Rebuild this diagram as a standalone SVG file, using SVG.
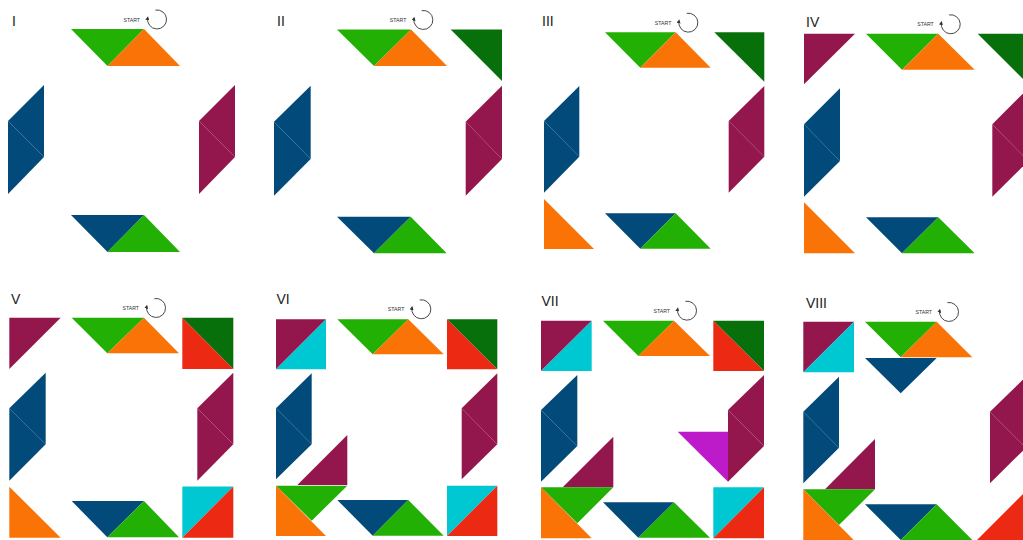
<svg xmlns="http://www.w3.org/2000/svg" width="1023" height="540" viewBox="0 0 1023 540">
<style>
.g{fill:#21b003}.o{fill:#f97306}.b{fill:#024a7a}.m{fill:#93174c}.dg{fill:#08700a}.r{fill:#ec2913}.c{fill:#00c8d2}.p{fill:#bd1bc9}
polygon{stroke:none}
.lbl{font-family:"Liberation Sans",Arial,sans-serif;font-size:14px;fill:#222}
.st{font-family:"Liberation Sans",Arial,sans-serif;font-size:5.2px;fill:#333}
.arc{fill:none;stroke:#333;stroke-width:0.9}
</style>
<defs>
<marker id="ah" viewBox="0 0 10 10" refX="6" refY="5" markerWidth="4" markerHeight="4" orient="auto" markerUnits="userSpaceOnUse"><path d="M0,0L10,5L0,10z" fill="#333"/></marker>
<g id="start">
<text class="st" x="-33.5" y="2">START</text>
<path class="arc" d="M-1.6,-9.4 A9.5,9.5 0 1 1 -9.3,-1.8" marker-end="url(#ah)"/>
</g>
</defs>

<g id="panel-1">
<text class="lbl" x="12" y="26">I</text>
<use href="#start" x="157" y="19.5"/>
<polygon class="g" points="71,29 144,29 107.5,66"/>
<polygon class="o" points="144,29 107.5,66 180,66"/>
<polygon class="b" points="44,85 44,157 8,121"/>
<polygon class="b" points="8,121 44,157 8,194"/>
<polygon class="m" points="235,85 235,157 199,121"/>
<polygon class="m" points="199,121 235,157 199,194"/>
<polygon class="b" points="71,215 144,215 107.5,252"/>
<polygon class="g" points="144,215 107.5,252 180,252"/>
</g>

<g id="panel-2">
<text class="lbl" x="277" y="26">II</text>
<use href="#start" x="423.3" y="20"/>
<polygon class="g" points="337,29.5 411,29.5 374,66"/>
<polygon class="o" points="411,29.5 374,66 447,66"/>
<polygon class="dg" points="450.7,29.5 502,29.5 502,81"/>
<polygon class="b" points="310.7,85.7 310.7,159 274,121.7"/>
<polygon class="b" points="274,121.7 310.7,159 274,195.7"/>
<polygon class="m" points="502,85.7 502,159 465.7,121.7"/>
<polygon class="m" points="465.7,121.7 502,159 465.7,195.7"/>
<polygon class="b" points="337,216.7 410.7,216.7 374,253.3"/>
<polygon class="g" points="410.7,216.7 374,253.3 446.7,253.3"/>
</g>

<g id="panel-3">
<text class="lbl" x="542" y="26">III</text>
<use href="#start" x="688.3" y="22.7"/>
<polygon class="g" points="605,32.3 675.7,32.3 640.3,67.7"/>
<polygon class="o" points="675.7,32.3 640.3,67.7 710.7,67.7"/>
<polygon class="dg" points="714.3,32.3 764.3,32.3 764.3,81.7"/>
<polygon class="b" points="579.3,86 579.3,156.7 544,121"/>
<polygon class="b" points="544,121 579.3,156.7 544,192.7"/>
<polygon class="m" points="764.3,86 764.3,156.7 728.7,121"/>
<polygon class="m" points="728.7,121 764.3,156.7 728.7,192.7"/>
<polygon class="o" points="544,199 544,249 594,249"/>
<polygon class="b" points="605,213.3 675.7,213.3 640.3,248.7"/>
<polygon class="g" points="675.7,213.3 640.3,248.7 710.7,248.7"/>
</g>

<g id="panel-4">
<text class="lbl" x="806" y="26.7">IV</text>
<use href="#start" x="950.7" y="24.3"/>
<polygon class="m" points="804,33.7 855,33.7 804,84.3"/>
<polygon class="g" points="866,33.7 938.3,33.7 902,69.7"/>
<polygon class="o" points="938.3,33.7 902,69.7 974.7,69.7"/>
<polygon class="dg" points="977.7,33.7 1029,33.7 1029,85"/>
<polygon class="b" points="840,88.3 840,161 804,124.3"/>
<polygon class="b" points="804,124.3 840,161 804,196.7"/>
<polygon class="m" points="1028.3,88.3 1028.3,161 992.3,124.3"/>
<polygon class="m" points="992.3,124.3 1028.3,161 992.3,196.7"/>
<polygon class="o" points="804,202.3 804,253.3 855,253.3"/>
<polygon class="b" points="866,217.3 938.3,217.3 902,253.3"/>
<polygon class="g" points="938.3,217.3 902,253.3 974.7,253.3"/>
</g>

<g id="panel-5">
<text class="lbl" x="11" y="304">V</text>
<use href="#start" x="156" y="308"/>
<polygon class="m" points="9.3,317.7 60.7,317.7 9.3,369"/>
<polygon class="g" points="71.7,317.7 144,317.7 107.3,353.3"/>
<polygon class="o" points="144,317.7 107.3,353.3 179,353.3"/>
<polygon class="dg" points="182.3,317.7 233.3,317.7 233.3,369"/>
<polygon class="r" points="182.3,317.7 182.3,369 233.3,369"/>
<polygon class="b" points="45.7,372.7 45.7,444.3 9.3,408.3"/>
<polygon class="b" points="9.3,408.3 45.7,444.3 9.3,480.7"/>
<polygon class="m" points="233.3,372.7 233.3,444.3 197.3,408.3"/>
<polygon class="m" points="197.3,408.3 233.3,444.3 197.3,480.7"/>
<polygon class="o" points="9.3,486.7 9.3,537.7 60.7,537.7"/>
<polygon class="b" points="71.7,501 144,501 107.3,537.3"/>
<polygon class="g" points="144,501 107.3,537.3 179,537.3"/>
<polygon class="c" points="182.3,486.5 233.3,486.5 182.3,537.7"/>
<polygon class="r" points="233.3,486.5 233.3,537.7 182.3,537.7"/>
</g>

<g id="panel-6">
<text class="lbl" x="276.5" y="304">VI</text>
<use href="#start" x="421.3" y="309.3"/>
<polygon class="m" points="276,319.3 326,319.3 276,369.3"/>
<polygon class="c" points="326,319.3 326,369.3 276,369.3"/>
<polygon class="g" points="337.3,319.3 408.3,319.3 372.7,354.3"/>
<polygon class="o" points="408.3,319.3 372.7,354.3 443.7,354.3"/>
<polygon class="dg" points="447,319.3 497.3,319.3 497.3,369.3"/>
<polygon class="r" points="447,319.3 447,369.3 497.3,369.3"/>
<polygon class="b" points="311.7,373.3 311.7,444.3 276,408.3"/>
<polygon class="b" points="276,408.3 311.7,444.3 276,479.3"/>
<polygon class="m" points="497.3,373.3 497.3,444.3 461.7,408.3"/>
<polygon class="m" points="461.7,408.3 497.3,444.3 461.7,479.3"/>
<polygon class="m" points="347.3,435 347.3,485 297.3,485"/>
<polygon class="g" points="276,485.7 347.3,485.7 311.7,520.7"/>
<polygon class="o" points="276,485.7 276,536 326,536"/>
<polygon class="b" points="337.3,500 408.3,500 372.7,535.7"/>
<polygon class="g" points="408.3,500 372.7,535.7 443.7,535.7"/>
<polygon class="c" points="447,485.7 497.3,485.7 447,536"/>
<polygon class="r" points="497.3,485.7 497.3,536 447,536"/>
</g>

<g id="panel-7">
<text class="lbl" x="541.5" y="305.7">VII</text>
<use href="#start" x="687" y="310.7"/>
<polygon class="m" points="541,320.7 591.7,320.7 541,371"/>
<polygon class="c" points="591.7,320.7 591.7,371 541,371"/>
<polygon class="g" points="603,320.7 674,320.7 638.3,356"/>
<polygon class="o" points="674,320.7 638.3,356 710,356"/>
<polygon class="dg" points="713.3,320.7 764,320.7 764,371"/>
<polygon class="r" points="713.3,320.7 713.3,371 764,371"/>
<polygon class="b" points="577.3,375 577.3,446 541,410"/>
<polygon class="b" points="541,410 577.3,446 541,481.7"/>
<polygon class="m" points="764,375 764,446 728,410"/>
<polygon class="m" points="728,410 764,446 728,481.7"/>
<polygon class="p" points="677.7,431.7 728,431.7 728,481.7"/>
<polygon class="m" points="613.3,436.7 613.3,487.3 562.7,487.3"/>
<polygon class="g" points="541,487.3 613.3,487.3 577.3,523.3"/>
<polygon class="o" points="541,487.3 541,538.3 591.7,538.3"/>
<polygon class="b" points="603,502.3 674,502.3 638.3,537.7"/>
<polygon class="g" points="674,502.3 638.3,537.7 710,537.7"/>
<polygon class="c" points="713.3,487.3 764,487.3 713.3,538.3"/>
<polygon class="r" points="764,487.3 764,538.3 713.3,538.3"/>
</g>

<g id="panel-8">
<text class="lbl" x="806" y="307.7">VIII</text>
<use href="#start" x="949" y="312"/>
<polygon class="m" points="803.3,321.7 854,321.7 803.3,372.3"/>
<polygon class="c" points="854,321.7 854,372.3 803.3,372.3"/>
<polygon class="g" points="865,321.7 936.7,321.7 900.7,357.3"/>
<polygon class="o" points="936.7,321.7 900.7,357.3 972.3,357.3"/>
<polygon class="b" points="865,358 936.7,358 900.7,393.3"/>
<polygon class="b" points="839,376.7 839,447.7 803.3,411.7"/>
<polygon class="b" points="803.3,411.7 839,447.7 803.3,483.3"/>
<polygon class="m" points="1026,376.7 1026,447.7 990,411.7"/>
<polygon class="m" points="990,411.7 1026,447.7 990,483.3"/>
<polygon class="m" points="875,439 875,489.3 825,489.3"/>
<polygon class="g" points="803.3,489.3 875,489.3 839,525"/>
<polygon class="o" points="803.3,489.3 803.3,540.3 854,540.3"/>
<polygon class="b" points="865,504.3 936.7,504.3 900.7,540"/>
<polygon class="g" points="936.7,504.3 900.7,540 972.3,540"/>
<polygon class="r" points="976.5,540.5 1027,490 1027,540.5"/>
</g>
</svg>
